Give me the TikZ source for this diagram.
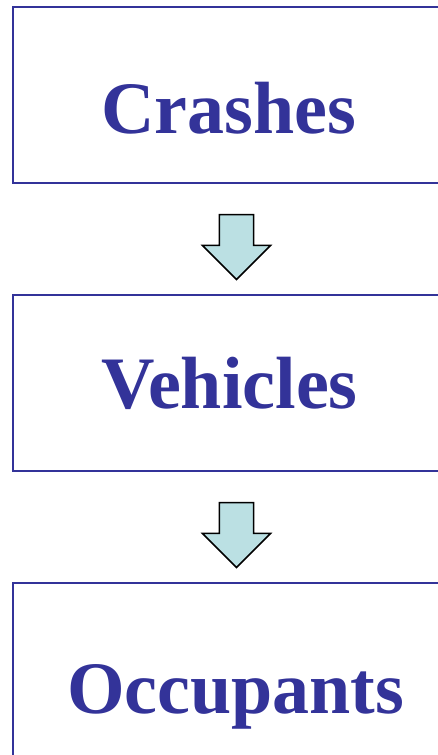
\documentclass[tikz,border=0pt]{standalone}
\usepackage{fontspec}
\setmainfont{Liberation Serif}
\usepackage{tikz}
\usetikzlibrary{shapes.arrows,calc}
\usepackage{xcolor}
\definecolor{stageblue}{HTML}{333399}
\definecolor{flowfill}{HTML}{BBE0E3}

\tikzset{
  stagebox/.style={draw=stageblue, line width=2pt, outer sep=0pt, inner sep=0pt,
    minimum width=447pt, minimum height=175.7pt},
  stagetext/.style={text=stageblue, font=\fontsize{74}{80}\selectfont\bfseries,
    inner sep=0pt, anchor=base},
  flowarrow/.style={single arrow, draw=black, line width=1.5pt, fill=flowfill,
    shape border rotate=270, inner sep=16.35pt, outer sep=0pt,
    single arrow head extend=17pt, single arrow tip angle=90,
    minimum height=65pt, minimum width=0pt, anchor=tail}
}

\begin{document}
\begin{tikzpicture}[x=1pt,y=1pt]
  \useasboundingbox (0,0) rectangle (438,-755);
  \clip (0,0) rectangle (438,-755);
  % three stages
  \node[stagebox] (crashbox) at (236.5,-94.85) {};
  \node[stagebox] (vehiclebox) at (236.5,-382.85) {};
  \node[stagebox] (occupantbox) at (236.5,-670.85) {};
  \node[stagetext] (crashes) at (229,-133) {Crashes};
  \node[stagetext] (vehicles) at (229.5,-408) {Vehicles};
  \node[stagetext] (occupants) at (235.7,-713) {Occupants};
  % block arrows between the stages
  \node[flowarrow] (flowone) at ($(crashbox.south)+(0,-31.8)$) {};
  \node[flowarrow] (flowtwo) at ($(vehiclebox.south)+(0,-31.8)$) {};
\end{tikzpicture}
\end{document}
